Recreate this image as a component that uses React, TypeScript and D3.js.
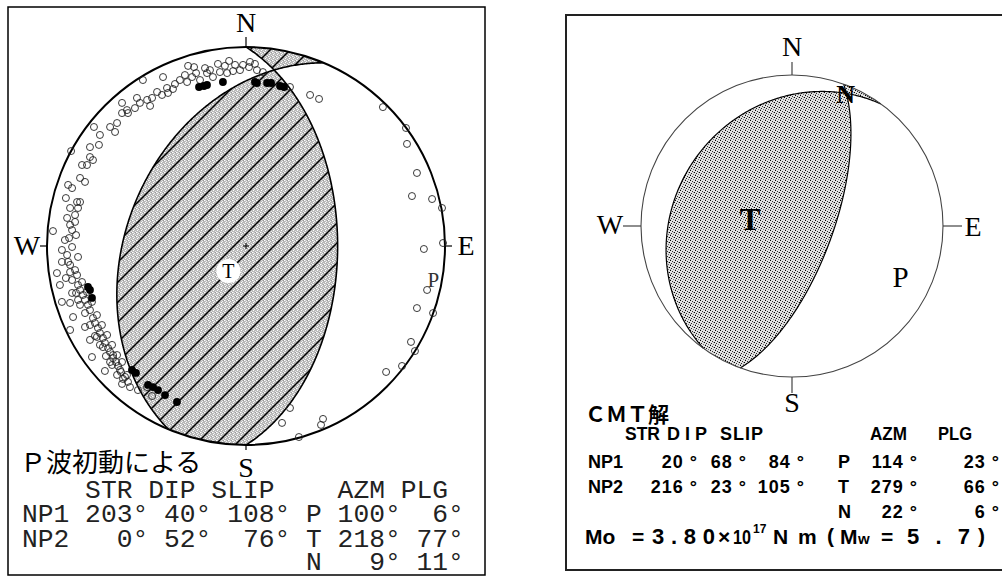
import React from 'react';
import * as d3 from 'd3';

type Plane = { name: string; strike: number; dip: number; slip: number };
type Axis = { name: string; azm: number; plg: number };

// ---------- data ----------
const pwavePlanes: Plane[] = [
  { name: 'NP1', strike: 203, dip: 40, slip: 108 },
  { name: 'NP2', strike: 0, dip: 52, slip: 76 },
];
const pwaveAxes: Axis[] = [
  { name: 'P', azm: 100, plg: 6 },
  { name: 'T', azm: 218, plg: 77 },
  { name: 'N', azm: 9, plg: 11 },
];
const cmtPlanes: Plane[] = [
  { name: 'NP1', strike: 20, dip: 68, slip: 84 },
  { name: 'NP2', strike: 216, dip: 23, slip: 105 },
];
const cmtAxes: Axis[] = [
  { name: 'P', azm: 114, plg: 23 },
  { name: 'T', azm: 279, plg: 66 },
  { name: 'N', azm: 22, plg: 6 },
];
const compass = ['N', 'E', 'S', 'W'];
const pwaveTitle = 'Ｐ波初動による';
const cmtTitle = 'ＣＭＴ解';
const moMantissa = '3.80';
const moExponent = '17';
const mwValue = '5.7';

// first-motion observations, (east, north) in unit-disc coordinates
const dilatations: [number, number][] = [
  [-0.518, 0.834], [-0.417, 0.849], [-0.291, 0.905], [-0.261, 0.899], [-0.206, 0.894], [-0.141, 0.915],
  [-0.085, 0.93], [-0.055, 0.91], [-0.015, 0.91], [0.015, 0.899], [0.055, 0.884], [0.085, 0.874],
  [-0.332, 0.834], [-0.296, 0.824], [-0.271, 0.849], [-0.231, 0.834], [-0.196, 0.869], [-0.166, 0.849],
  [-0.131, 0.874], [-0.095, 0.869], [-0.065, 0.879], [-0.03, 0.884], [-0.397, 0.794], [-0.367, 0.789],
  [-0.447, 0.774], [-0.422, 0.759], [-0.392, 0.769], [-0.472, 0.744], [-0.497, 0.734], [-0.548, 0.744],
  [-0.533, 0.719], [-0.558, 0.693], [-0.598, 0.683], [-0.623, 0.668], [-0.482, 0.704], [-0.593, 0.668],
  [-0.623, 0.719], [-0.648, 0.618], [-0.658, 0.573], [-0.683, 0.598], [-0.764, 0.598], [-0.734, 0.558],
  [-0.739, 0.508], [-0.784, 0.497], [-0.784, 0.447], [-0.769, 0.432], [-0.799, 0.407], [-0.824, 0.407],
  [-0.879, 0.477], [-0.834, 0.342], [-0.809, 0.322], [-0.894, 0.307], [-0.874, 0.291], [-0.849, 0.221],
  [-0.834, 0.221], [-0.884, 0.191], [-0.844, 0.191], [-0.899, 0.141], [-0.859, 0.121], [-0.874, 0.08],
  [-0.889, 0.04], [-0.854, 0.055], [-0.97, 0.075], [-0.925, -0.02], [-0.899, -0.045], [-0.844, -0.055],
  [-0.874, -0.005], [-0.95, -0.136], [-0.884, -0.131], [-0.849, -0.146],
  [-0.357, 0.814], [-0.307, 0.859], [-0.251, 0.869], [-0.181, 0.884], [-0.106, 0.905], [0.02, 0.925], [0.045, 0.915],
  [-0.91, 0.03], [-0.884, 0.106], [-0.925, -0.08], [-0.859, 0.156], [-0.905, 0.241],
  [0.221, 0.799], [0.322, 0.759], [0.367, 0.739], [0.688, 0.698], [0.804, 0.593], [0.809, 0.513],
  [0.859, 0.367], [0.834, 0.251], [0.935, 0.236], [0.985, 0.191], [0.99, 0.015], [0.894, -0.015],
  [0.91, -0.221], [0.859, -0.312], [0.94, -0.337], [0.829, -0.482], [0.849, -0.528], [0.784, -0.603],
  [0.704, -0.633], [0.387, -0.869], [0.377, -0.899], [0.181, -0.889], [0.221, -0.814], [0.266, -0.96],
  [-0.925, -0.281], [-0.884, -0.286], [-0.869, -0.357], [-0.884, -0.422], [-0.774, -0.558], [-0.709, -0.628],
  [-0.668, -0.548], [-0.719, -0.508], [-0.749, -0.457], [-0.809, -0.407], [-0.784, -0.472], [-0.683, -0.583],
  [-0.633, -0.623], [-0.618, -0.668], [-0.598, -0.648], [-0.543, -0.724], [-0.472, -0.754], [-0.497, -0.709],
  [-0.884, -0.095], [-0.859, -0.121], [-0.894, -0.08], [-0.874, -0.171], [-0.844, -0.196], [-0.834, -0.221],
  [-0.854, -0.236], [-0.819, -0.246], [-0.809, -0.271], [-0.834, -0.296], [-0.794, -0.296], [-0.784, -0.322],
  [-0.809, -0.337], [-0.769, -0.362], [-0.759, -0.387], [-0.784, -0.397], [-0.744, -0.412], [-0.734, -0.437],
  [-0.759, -0.452], [-0.719, -0.462], [-0.709, -0.487], [-0.734, -0.497], [-0.693, -0.513], [-0.683, -0.533],
  [-0.704, -0.553], [-0.668, -0.563], [-0.653, -0.583], [-0.673, -0.598], [-0.643, -0.603], [-0.628, -0.633],
  [-0.648, -0.648], [-0.608, -0.658], [-0.593, -0.683], [-0.623, -0.693], [-0.583, -0.709], [-0.824, -0.181],
  [-0.799, -0.231], [-0.774, -0.281], [-0.749, -0.347], [-0.724, -0.397], [-0.698, -0.447], [-0.673, -0.497],
  [-0.648, -0.548], [-0.623, -0.583], [-0.905, -0.161], [-0.935, -0.196], [-0.874, -0.236], [-0.844, -0.271],
];
const compressions: [number, number][] = [
  [-0.236, 0.799], [-0.211, 0.804], [-0.196, 0.809], [-0.116, 0.824], [0.045, 0.824], [0.055, 0.819],
  [0.106, 0.819], [0.126, 0.819], [0.171, 0.804], [0.191, 0.799], [-0.794, -0.206], [-0.784, -0.221],
  [-0.774, -0.261], [-0.573, -0.623], [-0.553, -0.638], [-0.492, -0.698], [-0.467, -0.709], [-0.442, -0.724],
  [-0.407, -0.749], [-0.347, -0.784],
];

// ---------- geometry ----------
const rad = Math.PI / 180;
type V3 = [number, number, number];
const dot = (a: V3, b: V3) => a[0] * b[0] + a[1] * b[1] + a[2] * b[2];
function planeNormal(strike: number, dip: number): V3 {
  const s = strike * rad, d = dip * rad;
  return [Math.cos(s) * Math.sin(d), -Math.sin(s) * Math.sin(d), -Math.cos(d)];
}
function axisVec(azm: number, plg: number): V3 {
  const a = azm * rad, p = plg * rad;
  return [Math.sin(a) * Math.cos(p), Math.cos(a) * Math.cos(p), Math.sin(p)];
}
function project(v: V3): [number, number] {
  let [e, n, d] = v;
  if (d < 0) { e = -e; n = -n; d = -d; }
  const h = Math.hypot(e, n);
  if (h < 1e-12) return [0, 0];
  const r = Math.sqrt(Math.max(0, 1 - d));
  return [(r * e) / h, (r * n) / h];
}
function unproject(u: number, w: number): V3 {
  const r = Math.hypot(u, w);
  if (r < 1e-12) return [0, 0, 1];
  const rr = Math.min(r, 1);
  const d = 1 - rr * rr;
  const h = Math.sqrt(Math.max(0, 1 - d * d));
  return [(u / r) * h, (w / r) * h, d];
}
function planeCurve(strike: number, dip: number): [number, number][] {
  const s = strike * rad, d = dip * rad;
  const a: V3 = [Math.sin(s), Math.cos(s), 0];
  const b: V3 = [Math.cos(s) * Math.cos(d), -Math.sin(s) * Math.cos(d), Math.sin(d)];
  const pts: [number, number][] = [];
  for (let t = 0; t <= 180; t += 0.5) {
    const c = Math.cos(t * rad), sn = Math.sin(t * rad);
    pts.push(project([a[0] * c + b[0] * sn, a[1] * c + b[1] * sn, a[2] * c + b[2] * sn]));
  }
  return pts;
}

function regionPath(planes: Plane[], tAxis: Axis, xs: d3.ScaleLinear<number, number>, ys: d3.ScaleLinear<number, number>) {
  const n1 = planeNormal(planes[0].strike, planes[0].dip);
  const n2 = planeNormal(planes[1].strike, planes[1].dip);
  const t = axisVec(tAxis.azm, tAxis.plg);
  const ref = Math.sign(dot(n1, t) * dot(n2, t));
  const N = 301, ext = 1.03;
  const vals: number[] = new Array(N * N);
  for (let j = 0; j < N; j++) {
    for (let i = 0; i < N; i++) {
      const u = -ext + (2 * ext * i) / (N - 1);
      const w = ext - (2 * ext * j) / (N - 1);
      const v = unproject(u, w);
      vals[j * N + i] = ref * dot(n1, v) * dot(n2, v);
    }
  }
  const cs = d3.contours().size([N, N]).thresholds([0])(vals);
  const toU = (g: number) => -ext + (2 * ext * (g - 0.5)) / (N - 1);
  const toW = (g: number) => ext - (2 * ext * (g - 0.5)) / (N - 1);
  const path = d3.geoPath(
    d3.geoTransform({
      point(x: number, y: number) {
        (this as any).stream.point(xs(toU(x)), ys(toW(y)));
      },
    })
  );
  return path(cs[0] as any) || '';
}

// ---------- beach ball ----------
type BallProps = {
  id: string;
  cx: number; cy: number; R: number;
  planes: Plane[]; axes: Axis[];
  fills: string[];
  circleStroke: string; circleWidth: number;
  lineWidth: number;
  tickIn: number[];
  labelFont: number;
  labelOffsets: [number, number][];
  children?: React.ReactNode;
};

function Ball(p: BallProps) {
  const xs = d3.scaleLinear().domain([-1, 1]).range([p.cx - p.R, p.cx + p.R]);
  const ys = d3.scaleLinear().domain([-1, 1]).range([p.cy + p.R, p.cy - p.R]);
  const tAxis = p.axes.find((a) => a.name === 'T')!;
  const region = regionPath(p.planes, tAxis, xs, ys);
  const line = d3.line<[number, number]>().x((d) => xs(d[0])).y((d) => ys(d[1]));
  const dirs: [number, number][] = [[0, 1], [1, 0], [0, -1], [-1, 0]];
  return (
    <g>
      <defs>
        <clipPath id={`clip-${p.id}`}>
          <circle cx={p.cx} cy={p.cy} r={p.R} />
        </clipPath>
      </defs>
      <g clipPath={`url(#clip-${p.id})`}>
        {p.fills.map((f) => (
          <path key={f} d={region} fill={f} />
        ))}
      </g>
      {p.planes.map((pl) => (
        <path key={pl.name} d={line(planeCurve(pl.strike, pl.dip)) || ''} fill="none" stroke="#000" strokeWidth={p.lineWidth} />
      ))}
      <circle cx={p.cx} cy={p.cy} r={p.R} fill="none" stroke={p.circleStroke} strokeWidth={p.circleWidth} />
      {dirs.map((d, i) => (
        <line key={i}
          x1={xs(d[0])} y1={ys(d[1])}
          x2={xs(d[0]) + d[0] * p.tickIn[i]} y2={ys(d[1]) - d[1] * p.tickIn[i]}
          stroke={p.circleStroke} strokeWidth={1.2} />
      ))}
      {compass.map((c, i) => (
        <text key={c}
          x={xs(dirs[i][0]) + p.labelOffsets[i][0]} y={ys(dirs[i][1]) + p.labelOffsets[i][1]}
          textAnchor="middle" fontFamily="'Liberation Serif', 'Times New Roman', serif" fontSize={p.labelFont} fill="#000">
          {c}
        </text>
      ))}
      {p.children}
    </g>
  );
}

export default function App() {
  const L = { cx: 246, cy: 246, R: 199 };
  const lx = d3.scaleLinear().domain([-1, 1]).range([L.cx - L.R, L.cx + L.R]);
  const ly = d3.scaleLinear().domain([-1, 1]).range([L.cy + L.R, L.cy - L.R]);
  const axisOf = (list: Axis[], n: string) => {
    const a = list.find((x) => x.name === n)!;
    return project(axisVec(a.azm, a.plg));
  };
  const lT = axisOf(pwaveAxes, 'T');
  const lP = axisOf(pwaveAxes, 'P');

  const Rg = { cx: 792, cy: 226, R: 151 };
  const rx = d3.scaleLinear().domain([-1, 1]).range([Rg.cx - Rg.R, Rg.cx + Rg.R]);
  const ry = d3.scaleLinear().domain([-1, 1]).range([Rg.cy + Rg.R, Rg.cy - Rg.R]);
  const rT = axisOf(cmtAxes, 'T');
  const rP = axisOf(cmtAxes, 'P');
  const rN = axisOf(cmtAxes, 'N');

  const deg = (v: number, w: number) => `${v}°`.padStart(w);
  const headerL = '    STR DIP SLIP    AZM PLG';
  const rowsL = [0, 1, 2].map((i) => {
    const pl = pwavePlanes[i];
    const ax = pwaveAxes[i];
    const left = pl ? `${pl.name} ${deg(pl.strike, 4)} ${deg(pl.dip, 3)} ${deg(pl.slip, 4)} ` : ' '.repeat(18);
    return `${left}${ax.name} ${deg(ax.azm, 4)} ${deg(ax.plg, 3)}`;
  });
  const monoY = [498, 522, 547, 570];

  const sansB = "'Liberation Sans', Arial, sans-serif";
  const cjk = "'Noto Sans CJK JP', 'Noto Sans', sans-serif";
  const rowY = [468, 493, 518];
  const colEnds = [698, 747, 805];
  const axEnds = [918, 1000];

  return (
    <svg width={1002} height={576} style={{ position: 'absolute', left: 0, top: 0, background: '#fff' }}>
      <defs>
        <pattern id="hatchBg" width="4" height="4" patternUnits="userSpaceOnUse">
          <rect width="4" height="4" fill="#bababa" />
          <rect x="0" y="0" width="1" height="1" fill="#fff" />
          <rect x="2" y="1" width="1" height="1" fill="#f0f0f0" />
          <rect x="1" y="2" width="1" height="1" fill="#fff" />
          <rect x="3" y="3" width="1" height="1" fill="#e8e8e8" />
          <rect x="3" y="0" width="1" height="1" fill="#9a9a9a" />
          <rect x="1" y="0" width="1" height="1" fill="#dcdcdc" />
        </pattern>
        <pattern id="hatchLines" width="20" height="20" patternUnits="userSpaceOnUse">
          <path d="M-5,5 L5,-5 M0,20 L20,0 M15,25 L25,15" stroke="#000" strokeWidth="1.5" />
        </pattern>
        <pattern id="stipple" width="5" height="5" patternUnits="userSpaceOnUse">
          <rect width="5" height="5" fill="#e2e2e2" />
          <rect x="0" y="0" width="1" height="1" fill="#000" />
          <rect x="2" y="1" width="1" height="1" fill="#333" />
          <rect x="4" y="2" width="1" height="1" fill="#000" />
          <rect x="1" y="3" width="1" height="1" fill="#222" />
          <rect x="3" y="4" width="1" height="1" fill="#777" />
          <rect x="3" y="2" width="1" height="1" fill="#aaa" />
          <rect x="0" y="4" width="1" height="1" fill="#999" />
        </pattern>
      </defs>

      {/* ===== Left panel ===== */}
      <rect x={8} y={7} width={477} height={568} fill="#fff" stroke="#000" strokeWidth={1.5} />
      <Ball id="pw" cx={L.cx} cy={L.cy} R={L.R} planes={pwavePlanes} axes={pwaveAxes}
        fills={['url(#hatchBg)', 'url(#hatchLines)']} circleStroke="#000" circleWidth={2} lineWidth={1.6}
        tickIn={[10, 7, 5, 7]} labelFont={28}
        labelOffsets={[[0, -15], [21, 9], [0, 32], [-20, 9]]}>
        <g>
          {dilatations.map((d, i) => (
            <circle key={`o${i}`} cx={lx(d[0])} cy={ly(d[1])} r={3.5} fill="none" stroke="#222" strokeWidth={0.9} />
          ))}
          {compressions.map((d, i) => (
            <circle key={`c${i}`} cx={lx(d[0])} cy={ly(d[1])} r={3.9} fill="#000" />
          ))}
          <path d={`M${L.cx - 3},${L.cy}h6M${L.cx},${L.cy - 3}v6`} stroke="#000" strokeWidth={1} />
          <circle cx={lx(lT[0]) + 2} cy={ly(lT[1])} r={12} fill="#fff" />
          <text x={lx(lT[0]) + 2} y={ly(lT[1]) + 7} textAnchor="middle" fontFamily="'Liberation Serif', serif" fontSize={20} fill="#000">T</text>
          <text x={lx(lP[0]) + 2} y={ly(lP[1]) + 8} textAnchor="middle" fontFamily="'Liberation Serif', serif" fontSize={21} fill="#333">P</text>
        </g>
      </Ball>
      <text x={20} y={472} fontFamily={cjk} fontSize={26} fill="#000">{pwaveTitle}</text>
      {[headerL, ...rowsL].map((s, i) => (
        <text key={i} x={22} y={monoY[i]} fontFamily="'Liberation Mono', 'Courier New', monospace" fontSize={26.3}
          fill="#222" style={{ whiteSpace: 'pre' }}>{s}</text>
      ))}

      {/* ===== Right panel ===== */}
      <rect x={566} y={15} width={450} height={555} fill="#fff" stroke="#222" strokeWidth={2} />
      <Ball id="cmt" cx={Rg.cx} cy={Rg.cy} R={Rg.R} planes={cmtPlanes} axes={cmtAxes}
        fills={['url(#stipple)']} circleStroke="#444" circleWidth={1.1} lineWidth={1.2}
        tickIn={[13, 19, 16, 18]} labelFont={28}
        labelOffsets={[[0, -19], [30, 10], [0, 35], [-31, 8]]}>
        <g>
          <text x={rx(rT[0]) + 2} y={ry(rT[1]) + 11} textAnchor="middle" fontFamily="'Liberation Serif', serif" fontWeight="bold" fontSize={31} fill="#000">T</text>
          <text x={rx(rP[0]) + 1} y={ry(rP[1]) + 13} textAnchor="middle" fontFamily="'Liberation Serif', serif" fontSize={29} fill="#000">P</text>
          <text x={rx(rN[0])} y={ry(rN[1]) + 9} textAnchor="middle" fontFamily="'Liberation Serif', serif" fontWeight="bold" fontSize={26} fill="#000">N</text>
        </g>
      </Ball>
      <text x={585} y={422} fontFamily={cjk} fontWeight="bold" fontSize={21} fill="#000">{cmtTitle}</text>
      <g fontFamily={sansB} fontWeight="bold" fontSize={18} fill="#000">
        <text x={625} y={440} textLength={35} lengthAdjust="spacingAndGlyphs">STR</text>
        <text x={667} y={440} textLength={40} lengthAdjust="spacing">DIP</text>
        <text x={720} y={440} textLength={43} lengthAdjust="spacing">SLIP</text>
        <text x={870} y={440} textLength={37} lengthAdjust="spacingAndGlyphs">AZM</text>
        <text x={938} y={440} textLength={34} lengthAdjust="spacingAndGlyphs">PLG</text>
        {cmtPlanes.map((pl, i) => (
          <g key={pl.name}>
            <text x={588} y={rowY[i]}>{pl.name}</text>
            {[pl.strike, pl.dip, pl.slip].map((v, k) => (
              <text key={k} x={colEnds[k]} y={rowY[i]} textAnchor="end" letterSpacing={1}>{`${v} °`}</text>
            ))}
          </g>
        ))}
        {cmtAxes.map((ax, i) => (
          <g key={ax.name}>
            <text x={838} y={rowY[i]}>{ax.name}</text>
            {[ax.azm, ax.plg].map((v, k) => (
              <text key={k} x={axEnds[k]} y={rowY[i]} textAnchor="end" letterSpacing={1}>{`${v} °`}</text>
            ))}
          </g>
        ))}
      </g>
      <g fontFamily={sansB} fontWeight="bold" fontSize={21} fill="#000">
        <text x={585} y={544}>Mo</text>
        <text x={632} y={544}>=</text>
        <text x={652} y={544} fontSize={22} textLength={63} lengthAdjust="spacing">{moMantissa}</text>
        <text x={718} y={544}>×</text>
        <text x={733} y={544} textLength={18} lengthAdjust="spacingAndGlyphs">10</text>
        <text x={753} y={533} fontSize={12}>{moExponent}</text>
        <text x={773} y={544}>N</text>
        <text x={798} y={544}>m</text>
        <text x={827} y={543}>(</text>
        <text x={840} y={544}>M</text>
        <text x={858} y={544} fontSize={15}>w</text>
        <text x={881} y={544}>=</text>
        <text x={907} y={544} fontSize={22} textLength={63} lengthAdjust="spacing">{mwValue}</text>
        <text x={978} y={543}>)</text>
      </g>
    </svg>
  );
}
